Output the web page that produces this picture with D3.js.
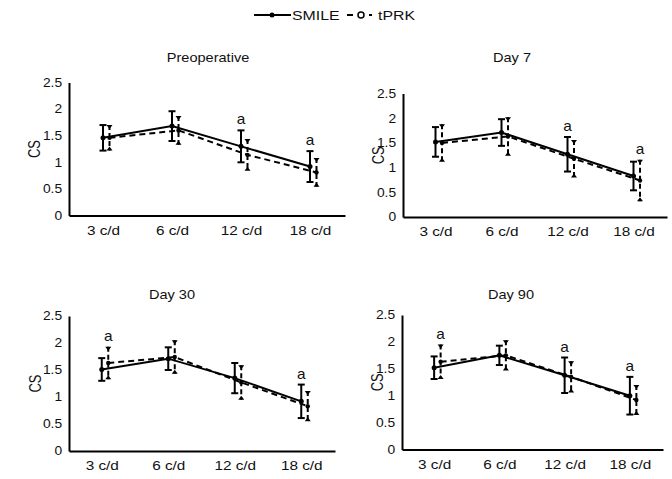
<!DOCTYPE html>
<html>
<head>
<meta charset="utf-8">
<script src="https://cdnjs.cloudflare.com/ajax/libs/d3/7.8.5/d3.min.js"></script>
<style>
  body { margin: 0; background: #fff; }
  svg { display: block; font-family: "Liberation Sans", Arial, sans-serif; }
  .domain { stroke: #000; stroke-width: 2px; }
</style>
</head>
<body>
<svg id="chart" width="672" height="479"></svg>
<script>
// categories (spatial frequency) and panel titles
const categories = ["3 c/d", "6 c/d", "12 c/d", "18 c/d"];
const titles = ["Preoperative", "Day 7", "Day 30", "Day 90"];
const yTicks = [0, 0.5, 1, 1.5, 2, 2.5];

// mean contrast sensitivity, one row per panel
const smileMean = [
  [1.46, 1.68, 1.30, 0.92],
  [1.52, 1.71, 1.27, 0.83],
  [1.51, 1.71, 1.35, 0.92],
  [1.52, 1.75, 1.38, 1.00]
];
const smileSd = [
  [0.24, 0.28, 0.30, 0.29],
  [0.30, 0.27, 0.35, 0.29],
  [0.21, 0.21, 0.28, 0.31],
  [0.21, 0.18, 0.33, 0.35]
];
const tprkMean = [
  [1.46, 1.60, 1.14, 0.81],
  [1.50, 1.63, 1.18, 0.74],
  [1.63, 1.74, 1.27, 0.83],
  [1.63, 1.75, 1.35, 0.92]
];
const tprkSd = [
  [0.24, 0.27, 0.30, 0.27],
  [0.38, 0.39, 0.38, 0.42],
  [0.30, 0.31, 0.32, 0.28],
  [0.32, 0.28, 0.29, 0.28]
];
// categories marked "a" (significant difference) in each panel
const marked = [
  ["12 c/d", "18 c/d"],
  ["12 c/d", "18 c/d"],
  ["3 c/d", "18 c/d"],
  ["3 c/d", "12 c/d", "18 c/d"]
];

// panel frames
const frames = [
  {x0: 69, x1: 345, yb: 215.5, yt: 82.5, tx: 208, ty: 62, cx: 37},
  {x0: 403, x1: 667, yb: 217, yt: 93.5, tx: 512, ty: 62, cx: 381},
  {x0: 69, x1: 335, yb: 451, yt: 316, tx: 172, ty: 299, cx: 38},
  {x0: 402, x1: 663, yb: 449.5, yt: 315, tx: 511, ty: 299, cx: 380}
];

const svg = d3.select('#chart');
svg.append('rect').attr('width', 672).attr('height', 479).attr('fill', '#fff');

// the source figure is a little wider than tall, so text gets a horizontal stretch
function label(parent, x, y, txt, size, k, anchor) {
  return parent.append('text')
    .attr('transform', `translate(${x},${y}) scale(${k},1)`)
    .attr('text-anchor', anchor || 'start')
    .attr('font-size', size)
    .attr('fill', '#111')
    .text(txt);
}

// legend
const legend = svg.append('g').attr('transform', 'translate(0,15)');
legend.append('line').attr('x1', 254).attr('x2', 291).attr('stroke', '#000').attr('stroke-width', 2);
legend.append('circle').attr('cx', 272).attr('r', 2.5).attr('fill', '#000');
label(legend, 292, 5, 'SMILE', 13, 1.22);
legend.append('line').attr('x1', 347).attr('x2', 372).attr('stroke', '#000')
  .attr('stroke-width', 2).attr('stroke-dasharray', '6,5');
legend.append('circle').attr('cx', 361).attr('r', 3).attr('fill', '#fff')
  .attr('stroke', '#000').attr('stroke-width', 1.5);
label(legend, 378, 5, 'tPRK', 13, 1.22);

function drawSeries(g, x, y, means, sds, dx, dashed) {
  const cx = c => x(c) + x.bandwidth() / 2 + dx;
  const data = categories.map((c, i) => ({c, m: means[i], s: sds[i]}));
  const line = d3.line().x(d => cx(d.c)).y(d => y(d.m));
  g.append('path').datum(data)
    .attr('d', line)
    .attr('fill', 'none')
    .attr('stroke', '#000')
    .attr('stroke-width', 2)
    .attr('stroke-dasharray', dashed ? '6,4' : null);

  const bars = g.selectAll(null).data(data).enter().append('g');
  bars.append('line')
    .attr('x1', d => cx(d.c)).attr('x2', d => cx(d.c))
    .attr('y1', d => y(d.m + d.s)).attr('y2', d => y(d.m - d.s))
    .attr('stroke', '#000').attr('stroke-width', 2)
    .attr('stroke-dasharray', dashed ? '5,3' : null);
  if (!dashed) {
    [1, -1].forEach(sign => {
      bars.append('line')
        .attr('x1', d => cx(d.c) - 3.5).attr('x2', d => cx(d.c) + 3.5)
        .attr('y1', d => y(d.m + sign * d.s)).attr('y2', d => y(d.m + sign * d.s))
        .attr('stroke', '#000').attr('stroke-width', 2);
    });
    bars.append('circle')
      .attr('cx', d => cx(d.c)).attr('cy', d => y(d.m))
      .attr('r', 2.5).attr('fill', '#000');
  } else {
    // small triangle caps, flat edge at the bar end
    bars.append('path')
      .attr('d', d => {
        const px = cx(d.c), py = y(d.m + d.s);
        return `M${px - 3},${py}L${px + 3},${py}L${px},${py + 4}Z`;
      })
      .attr('fill', '#000');
    bars.append('path')
      .attr('d', d => {
        const px = cx(d.c), py = y(d.m - d.s);
        return `M${px - 3},${py}L${px + 3},${py}L${px},${py - 4}Z`;
      })
      .attr('fill', '#000');
    bars.append('circle')
      .attr('cx', d => cx(d.c)).attr('cy', d => y(d.m))
      .attr('r', 2.2).attr('fill', '#000');
  }
  return cx;
}

frames.forEach((f, p) => {
  const g = svg.append('g');
  const x = d3.scaleBand().domain(categories).range([f.x0, f.x1]);
  const y = d3.scaleLinear().domain([0, 2.5]).range([f.yb, f.yt]);

  g.append('g')
    .attr('transform', `translate(${f.x0},0)`)
    .call(d3.axisLeft(y).tickValues(yTicks).tickSize(0).tickPadding(6).tickFormat(d => String(d)))
    .call(a => a.selectAll('text').attr('font-size', 12).attr('fill', '#111')
      .attr('transform', 'scale(1.15,1)')
      .attr('font-family', '"Liberation Sans", Arial, sans-serif'));

  g.append('g')
    .attr('transform', `translate(0,${f.yb})`)
    .call(d3.axisBottom(x).tickSize(0).tickPadding(10))
    .call(a => a.selectAll('text').attr('font-size', 13).attr('fill', '#111')
      .attr('transform', 'scale(1.18,1)')
      .attr('font-family', '"Liberation Sans", Arial, sans-serif'));

  label(g, f.tx, f.ty, titles[p], 13, 1.12, 'middle');

  g.append('text')
    .attr('transform', `translate(${f.cx + 3},${(f.yb + f.yt) / 2}) rotate(-90) scale(1,1.2)`)
    .attr('text-anchor', 'middle').attr('font-size', 13).attr('fill', '#111')
    .text('CS');

  const cxS = drawSeries(g, x, y, smileMean[p], smileSd[p], -0.5, false);
  const cxT = drawSeries(g, x, y, tprkMean[p], tprkSd[p], 6, true);

  // "a" markers above the taller error bar
  marked[p].forEach(c => {
    const i = categories.indexOf(c);
    const topS = smileMean[p][i] + smileSd[p][i];
    const topT = tprkMean[p][i] + tprkSd[p][i];
    const useS = topS >= topT;
    label(g, useS ? cxS(c) : cxT(c), y(Math.max(topS, topT)) - 6, 'a', 14, 1.1, 'middle');
  });
});
</script>
</body>
</html>
